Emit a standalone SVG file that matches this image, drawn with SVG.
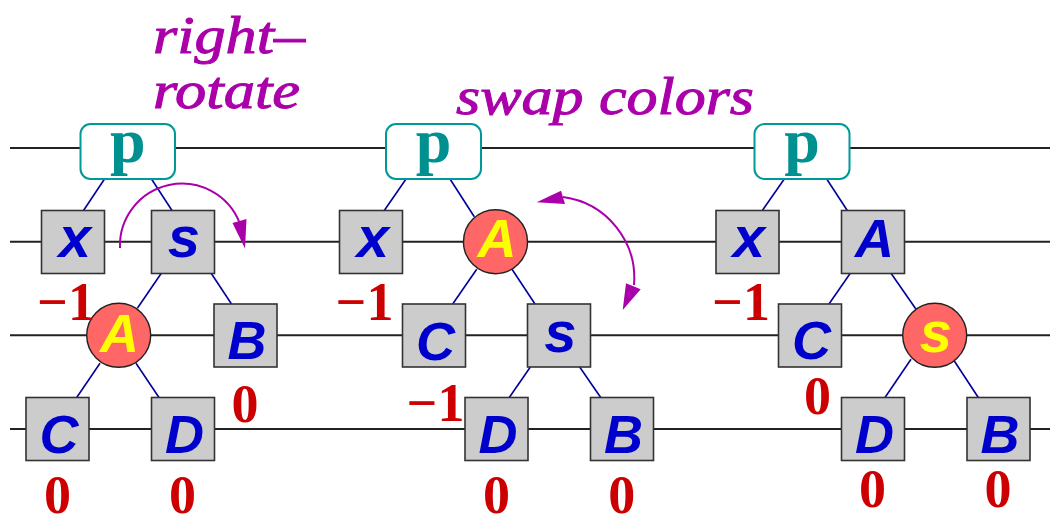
<svg xmlns="http://www.w3.org/2000/svg" width="1050" height="521" viewBox="0 0 1050 521">
  <style>
    .level { stroke: #222; stroke-width: 2; fill: none; }
    .edge { stroke: #000099; stroke-width: 1.6; fill: none; }
    .box { fill: #cccccc; stroke: #333; stroke-width: 1.6; }
    .red { fill: #ff6666; stroke: #222; stroke-width: 1.4; }
    .root { fill: #ffffff; stroke: #009999; stroke-width: 2; }
    .rootlbl { font-family: "Liberation Serif", serif; font-weight: bold; font-size: 64px; fill: #009090; text-anchor: middle; }
    .lbl { font-family: "Liberation Sans", Arial, sans-serif; font-weight: bold; font-style: italic; font-size: 54px; fill: #0000cc; text-anchor: middle; }
    .lc { font-size: 58px; }
    .onred { fill: #ffff00; }
    .num { font-family: "Liberation Serif", serif; font-weight: bold; font-size: 54px; fill: #cc0000; text-anchor: middle; }
    .note { font-family: "Liberation Serif", serif; font-style: italic; font-size: 53px; fill: #aa00aa; stroke: #aa00aa; stroke-width: 1; }
    .arc { stroke: #aa00aa; stroke-width: 2; fill: none; }
    .head { fill: #aa00aa; }
  </style>

  <!-- tree levels -->
  <g id="levels">
    <line class="level" x1="10" y1="148" x2="1050" y2="148"/>
    <line class="level" x1="10" y1="241.7" x2="1050" y2="241.7"/>
    <line class="level" x1="10" y1="335.3" x2="1050" y2="335.3"/>
    <line class="level" x1="10" y1="429" x2="1050" y2="429"/>
  </g>

  <!-- parent/child links -->
  <g id="connectors">
    <line class="edge" x1="104.5" y1="179" x2="83.5" y2="210.5"/>
    <line class="edge" x1="151.5" y1="179" x2="172" y2="210.5"/>
    <line class="edge" x1="161.5" y1="273" x2="137.5" y2="308"/>
    <line class="edge" x1="211" y1="273" x2="231.5" y2="304"/>
    <line class="edge" x1="100" y1="363.3" x2="76.7" y2="397.5"/>
    <line class="edge" x1="136" y1="363.3" x2="159" y2="397.5"/>

    <line class="edge" x1="406" y1="179" x2="384.3" y2="210.5"/>
    <line class="edge" x1="450" y1="179" x2="474.3" y2="216.7"/>
    <line class="edge" x1="476.7" y1="269.3" x2="452.7" y2="304"/>
    <line class="edge" x1="512" y1="269.3" x2="535" y2="304"/>
    <line class="edge" x1="530.3" y1="367" x2="509.3" y2="397.5"/>
    <line class="edge" x1="579.7" y1="367" x2="600.7" y2="397.5"/>

    <line class="edge" x1="784.3" y1="179" x2="762.3" y2="210.5"/>
    <line class="edge" x1="826.7" y1="179" x2="847.3" y2="210.5"/>
    <line class="edge" x1="850.3" y1="273.3" x2="829" y2="304"/>
    <line class="edge" x1="891" y1="273.3" x2="915.7" y2="308.7"/>
    <line class="edge" x1="911" y1="359.3" x2="885" y2="397.5"/>
    <line class="edge" x1="954.3" y1="361" x2="978.3" y2="397.5"/>
  </g>

  <!-- step 1 -->
  <g id="p1"><rect class="root" x="80.5" y="124" width="94.5" height="55" rx="10"/><text class="rootlbl" x="127.7" y="162">p</text></g>
  <g id="x1"><rect class="box" x="41.5" y="210.5" width="63" height="63"/><text class="lbl lc" x="75" y="256.7">x</text></g>
  <g id="s1"><rect class="box" x="151.5" y="210.5" width="63" height="63"/><text class="lbl lc" x="184" y="256.7">s</text></g>
  <g id="A1"><circle class="red" cx="118.7" cy="335.3" r="32"/><text class="lbl onred" x="119.5" y="351.7" font-size="44">A</text></g>
  <g id="B1"><rect class="box" x="214" y="304" width="63" height="63"/><text class="lbl" x="247" y="359">B</text></g>
  <g id="C1"><rect class="box" x="26" y="397.5" width="63" height="63"/><text class="lbl" x="59" y="452.5">C</text></g>
  <g id="D1"><rect class="box" x="151.5" y="397.5" width="63" height="63"/><text class="lbl" x="184.5" y="452.7">D</text></g>

  <!-- step 2 -->
  <g id="p2"><rect class="root" x="386" y="124" width="95" height="55" rx="10"/><text class="rootlbl" x="433.5" y="162">p</text></g>
  <g id="x2"><rect class="box" x="339.5" y="210.5" width="63" height="63"/><text class="lbl lc" x="373" y="256.7">x</text></g>
  <g id="A2"><circle class="red" cx="495.5" cy="241.7" r="32"/><text class="lbl onred" x="497" y="256.7">A</text></g>
  <g id="C2"><rect class="box" x="402.5" y="304" width="63" height="63"/><text class="lbl" x="435.5" y="359.5">C</text></g>
  <g id="s2"><rect class="box" x="527.5" y="304" width="63" height="63"/><text class="lbl lc" x="560.5" y="351.7">s</text></g>
  <g id="D2"><rect class="box" x="465" y="397.5" width="63" height="63"/><text class="lbl" x="498" y="453.3">D</text></g>
  <g id="B2"><rect class="box" x="590.5" y="397.5" width="63" height="63"/><text class="lbl" x="623.5" y="453.3">B</text></g>

  <!-- step 3 -->
  <g id="p3"><rect class="root" x="754.5" y="124" width="95" height="55" rx="10"/><text class="rootlbl" x="802" y="162">p</text></g>
  <g id="x3"><rect class="box" x="716" y="210.5" width="63" height="63"/><text class="lbl lc" x="749" y="256.7">x</text></g>
  <g id="A3"><rect class="box" x="841.5" y="210.5" width="63" height="63"/><text class="lbl" x="874.5" y="256.7">A</text></g>
  <g id="C3"><rect class="box" x="778.5" y="304" width="63" height="63"/><text class="lbl" x="811.5" y="359">C</text></g>
  <g id="s3"><circle class="red" cx="934.7" cy="335.3" r="32"/><text class="lbl lc onred" x="936" y="351.7">s</text></g>
  <g id="D3"><rect class="box" x="841.5" y="397.5" width="63" height="63"/><text class="lbl" x="874.5" y="453.3">D</text></g>
  <g id="B3"><rect class="box" x="967" y="397.5" width="63" height="63"/><text class="lbl" x="1000" y="453.3">B</text></g>

  <!-- balance factors -->
  <g id="balance">
    <text class="num" x="66" y="320">−1</text>
    <text class="num" x="245" y="421.7">0</text>
    <text class="num" x="57.5" y="513">0</text>
    <text class="num" x="182.5" y="513">0</text>

    <text class="num" x="364.5" y="320">−1</text>
    <text class="num" x="435.5" y="420.7">−1</text>
    <text class="num" x="496.5" y="513">0</text>
    <text class="num" x="621.7" y="513">0</text>

    <text class="num" x="741" y="320">−1</text>
    <text class="num" x="817.5" y="414">0</text>
    <text class="num" x="872.5" y="507.3">0</text>
    <text class="num" x="998" y="507.3">0</text>
  </g>

  <!-- operation notes -->
  <g id="notes">
    <text class="note" x="153" y="53" textLength="152" lengthAdjust="spacingAndGlyphs">right–</text>
    <text class="note" x="153" y="108.3" textLength="147" lengthAdjust="spacingAndGlyphs">rotate</text>
    <text class="note" x="456" y="113.5" textLength="298" lengthAdjust="spacingAndGlyphs">swap colors</text>
  </g>

  <!-- rotation and swap arrows -->
  <g id="arrows">
    <path class="arc" d="M120,248 A62,62 0 0 1 239.5,222.5"/>
    <polygon class="head" points="245,248.5 232.5,223 246.5,219"/>
    <path class="arc" d="M563,197 A82,82 0 0 1 634,285"/>
    <polygon class="head" points="536.7,202.3 561,190.7 565,204"/>
    <polygon class="head" points="622.7,310 626,283.3 640.7,289.3"/>
  </g>
</svg>
